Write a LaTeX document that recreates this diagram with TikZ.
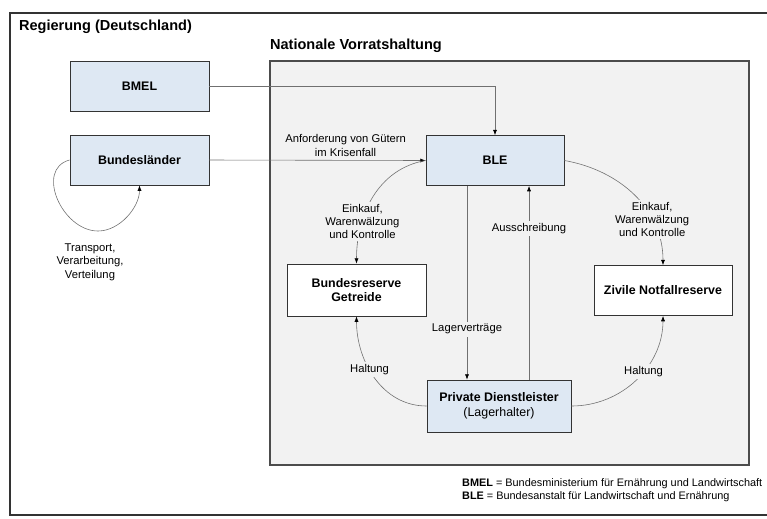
\documentclass[tikz,border=0pt]{standalone}
\usepackage{fontspec}
\setmainfont{Liberation Sans}
\usetikzlibrary{arrows.meta}
\definecolor{boxblue}{HTML}{DEE8F3}
\definecolor{areagray}{HTML}{F2F2F2}
\definecolor{linegray}{HTML}{707070}
\begin{document}
\begin{tikzpicture}[x=0.03cm, y=-0.03cm,
    box/.style={draw=black!80, line width=0.8pt, minimum width=4.17cm, minimum height=1.5cm, align=center, font=\fontsize{10.6}{12.5}\selectfont\bfseries},
    conn/.style={draw=linegray, line width=0.5pt, -{Latex[length=4.5pt,width=3.5pt,black]}},
    lbl/.style={fill=areagray, inner sep=2pt, align=center, font=\fontsize{9.6}{11}\selectfont}]
    \useasboundingbox (0,0) rectangle (767,518);
    % frames
    \draw[black!80, line width=1.3pt] (10,13) rectangle (780,515);
    \node[anchor=west, font=\fontsize{12.4}{14}\selectfont\bfseries] (gov) at (15,27) {Regierung (Deutschland)};
    \filldraw[fill=areagray, draw=black!70, line width=1pt] (270,61) rectangle (749,465);
    \node[anchor=west, font=\fontsize{12.4}{14}\selectfont\bfseries] (nat) at (266,46) {Nationale Vorratshaltung};
    % boxes
    \node[box, fill=boxblue] (bmel) at (139.5,86) {BMEL};
    \node[box, fill=boxblue] (laender) at (139.5,160) {Bundesländer};
    \node[box, fill=boxblue, minimum width=4.14cm] (ble) at (495,160.5) {BLE};
    \node[box, fill=white, minimum height=1.56cm] (reserve) at (356.5,290) {Bundesreserve\\Getreide};
    \node[box, fill=white, minimum width=4.14cm] (zivil) at (663,290.5) {Zivile Notfallreserve};
    \node[box, fill=boxblue, minimum width=4.32cm, minimum height=1.56cm] (priv) at (499,406) {Private Dienstleister\\\mdseries(Lagerhalter)};
    % connectors
    \draw[conn] (bmel.east) -| (ble.north);
    \draw[conn] (laender.east) -- node[pos=0.63, above, align=center, font=\fontsize{9.6}{11.5}\selectfont, inner sep=3pt] {Anforderung von Gütern\\im Krisenfall} (ble.west);
    \coordinate (loopb) at (98,231);
    \draw[conn] (laender.west) to[out=195, in=180, looseness=1.2] (loopb) to[out=0, in=-90, looseness=0.9] (laender.south);
    \node[align=center, font=\fontsize{9.6}{11.5}\selectfont] (trans) at (90,262) {Transport,\\Verarbeitung,\\Verteilung};
    \draw[conn] (ble.west) to[out=190, in=90] node[lbl, pos=0.7] {Einkauf,\\Warenwälzung\\und Kontrolle} (reserve.north);
    \draw[conn] (ble.east) to[out=-10, in=90] node[lbl, pos=0.7] {Einkauf,\\Warenwälzung\\und Kontrolle} (zivil.north);
    \draw[conn] ([xshift=-0.84cm]ble.south) -- node[lbl, pos=0.74] {Lagerverträge} ([xshift=-0.84cm]ble.south |- priv.north);
    \draw[conn] ([xshift=0.9cm]priv.north) -- node[lbl, pos=0.78] {Ausschreibung} ([xshift=0.9cm]priv.north |- ble.south);
    \draw[conn] (priv.west) to[out=180, in=-90] node[lbl, pos=0.58] {Haltung} (reserve.south);
    \draw[conn] (priv.east) to[out=0, in=-90] node[lbl, pos=0.58] {Haltung} (zivil.south);
    % legend
    \node[anchor=west, align=left, font=\fontsize{9.3}{11.5}\selectfont] (legend) at (458,490) {\textbf{BMEL} = Bundesministerium für Ernährung und Landwirtschaft\\\textbf{BLE} = Bundesanstalt für Landwirtschaft und Ernährung};
\end{tikzpicture}
\end{document}
